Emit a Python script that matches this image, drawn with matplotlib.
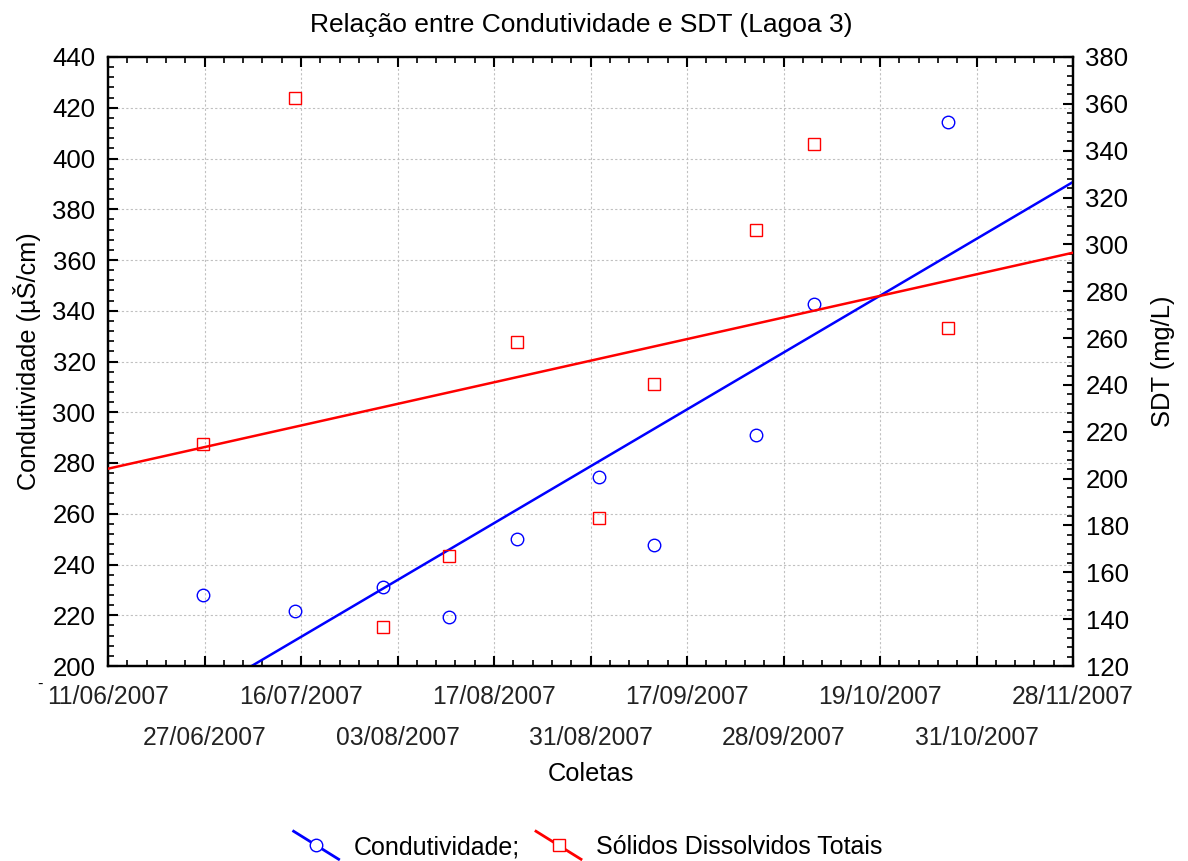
import numpy as np
import matplotlib
matplotlib.use("Agg")
import matplotlib.pyplot as plt
from matplotlib.lines import Line2D
from matplotlib.legend_handler import HandlerBase
from matplotlib.ticker import MultipleLocator, AutoMinorLocator

plt.rcParams['font.family'] = ['Liberation Sans', 'DejaVu Sans']

# posicao das coletas no eixo x (unidades de marca principal)
COLETA_X = [0.98, 1.94, 2.85, 3.53, 4.24, 5.09, 5.66, 6.72, 7.32, 8.70]
CONDUTIVIDADE = [228.0, 221.7, 231.1, 219.3, 250.0, 274.5, 247.7, 291.0, 342.7, 414.4]
SDT = [214.8, 362.5, 136.6, 166.9, 258.3, 183.2, 240.4, 306.1, 342.9, 264.3]
DATAS = ["11/06/2007", "27/06/2007", "16/07/2007", "03/08/2007", "17/08/2007",
         "31/08/2007", "17/09/2007", "28/09/2007", "19/10/2007", "31/10/2007",
         "28/11/2007"]

FS = 18.5
FS_DATA = 17.7


class DiagHandler(HandlerBase):
    def create_artists(self, legend, orig_handle, xdescent, ydescent,
                       width, height, fontsize, trans):
        c = orig_handle.get_color()
        x0, x1 = -xdescent, width - xdescent
        y0, y1 = height * 1.3 - ydescent, -height * 0.3 - ydescent
        ln = Line2D([x0, x1], [y0, y1], color=c, lw=2, transform=trans)
        mk = Line2D([(x0 + x1) / 2], [(y0 + y1) / 2], marker=orig_handle.get_marker(),
                    mfc='white', mec=c, mew=1, ms=9, ls='none', transform=trans)
        return [ln, mk]


fig = plt.figure(figsize=(11.88, 8.61), dpi=100)
ax = fig.add_axes([108 / 1188, 1 - 666 / 861, (1073 - 108) / 1188, (666 - 57) / 861])
ax2 = ax.twinx()

x = np.array(COLETA_X)
cond = np.array(CONDUTIVIDADE)
sdt = np.array(SDT)

xx = np.array([0, 10])
pc = np.polyfit(x, cond, 1)
ps = np.polyfit(x, sdt, 1)

ax.plot(xx, np.polyval(pc, xx), color='blue', lw=1.8, zorder=3)
ax.plot(x, cond, 'o', mfc='none', mec='blue', mew=1, ms=9, zorder=4)
ax2.plot(xx, np.polyval(ps, xx), color='red', lw=1.8, zorder=3)
ax2.plot(x, sdt, 's', mfc='none', mec='red', mew=1, ms=9, zorder=4)

ax.set_xlim(0, 10)
ax.set_ylim(200, 440)
ax2.set_ylim(120, 380)

ax.xaxis.set_minor_locator(AutoMinorLocator(5))
ax.yaxis.set_major_locator(MultipleLocator(20))
ax.yaxis.set_minor_locator(AutoMinorLocator(5))
ax2.yaxis.set_major_locator(MultipleLocator(20))
ax2.yaxis.set_minor_locator(AutoMinorLocator(5))

# datas em duas linhas: pares na primeira, impares na segunda
ax.set_xticks(range(11))
ax.set_xticklabels([d if i % 2 == 0 else "" for i, d in enumerate(DATAS)],
                   fontsize=FS_DATA, color='#222222')
sec = ax.secondary_xaxis('bottom')
sec.set_xticks(range(1, 11, 2))
sec.set_xticklabels(DATAS[1::2], fontsize=FS_DATA, color='#222222')
sec.tick_params(axis='x', length=0, pad=43)
sec.spines['bottom'].set_visible(False)

ax.tick_params(axis='x', which='both', direction='in', top=True, bottom=True)
ax.tick_params(axis='x', which='major', length=7, width=1.5, pad=14)
ax.tick_params(axis='x', which='minor', length=4, width=1.2)
ax.tick_params(axis='y', which='major', direction='in', length=7, width=1.5,
               labelsize=FS, pad=9)
ax.tick_params(axis='y', which='minor', direction='in', length=4, width=1.2)
ax2.tick_params(axis='y', which='major', direction='in', length=7, width=1.5,
                labelsize=FS, pad=9)
ax2.tick_params(axis='y', which='minor', direction='in', length=4, width=1.2)

for a in (ax, ax2):
    for s in a.spines.values():
        s.set_linewidth(1.6)

ax.grid(True, which='major', color='#c0c0c0', ls=(0, (2, 2)), lw=0.8)
ax.set_axisbelow(True)

ax.set_title("Relação entre Condutividade e SDT (Lagoa 3)", fontsize=19, pad=18,
             x=0.49)
sec.set_xlabel("Coletas", fontsize=18.3, labelpad=9)
ax.set_ylabel("Condutividade (µŠ/cm)", fontsize=18.2, labelpad=8)
ax2.set_ylabel("SDT (mg/L)", fontsize=18.4, labelpad=16)

fig.text(40 / 1188, 1 - 684 / 861, "-", fontsize=12, ha='center', va='center')

h1 = Line2D([], [], color='blue', marker='o')
h2 = Line2D([], [], color='red', marker='s')
fig.legend([h1, h2], ["Condutividade;", "Sólidos Dissolvidos Totais"],
           handler_map={Line2D: DiagHandler()}, loc='center',
           bbox_to_anchor=(588 / 1188, 1 - 847 / 861), ncol=2, frameon=False,
           fontsize=18, handlelength=1.8, handletextpad=0.6, columnspacing=0.65)

fig.savefig("out.png", dpi=100)
